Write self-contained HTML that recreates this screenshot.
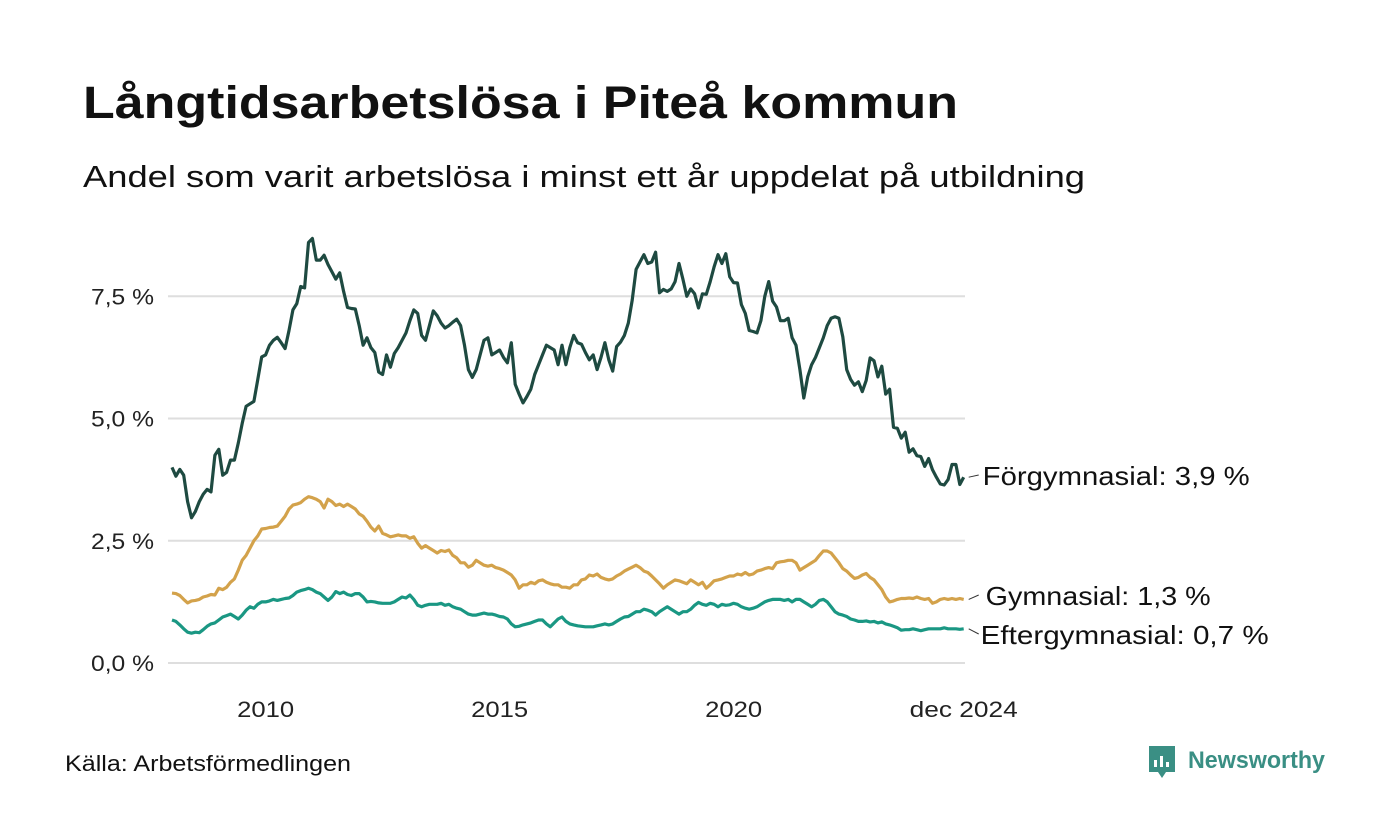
<!DOCTYPE html>
<html><head><meta charset="utf-8"><style>
body{margin:0;background:#fff;}
svg{display:block;font-family:"Liberation Sans","DejaVu Sans",sans-serif;}
</style></head><body>
<svg id="chart" width="1400" height="840" viewBox="0 0 1400 840">
<rect width="1400" height="840" fill="#fff"/>
<text x="83" y="118" font-size="45" font-weight="bold" fill="#111" textLength="875" lengthAdjust="spacingAndGlyphs">Långtidsarbetslösa i Piteå kommun</text>
<text x="83" y="187" font-size="31" fill="#111" textLength="1002" lengthAdjust="spacingAndGlyphs">Andel som varit arbetslösa i minst ett år uppdelat på utbildning</text>
<g id="grid"></g>
<g id="yticks"></g>
<g id="xticks"></g>
<g id="series"></g>
<g id="labels"></g>
<text x="65" y="771" font-size="22" fill="#111" textLength="286" lengthAdjust="spacingAndGlyphs">Källa: Arbetsförmedlingen</text>
<g>
<path d="M1149 746 h26 v26 h-9 l-4 6 l-4 -6 h-9 z" fill="#3a8f84"/>
<rect x="1154" y="760" width="3" height="7" fill="#fff"/>
<rect x="1160" y="756" width="3" height="11" fill="#fff"/>
<rect x="1166" y="762" width="3" height="5" fill="#fff"/>
<text x="1188" y="768" font-size="24" font-weight="bold" fill="#3a8f84" textLength="137" lengthAdjust="spacingAndGlyphs">Newsworthy</text>
</g>
</svg>
<script>
const startYear = 2008;
const yTicks = [0, 2.5, 5, 7.5];
const yTickLabels = ["0,0 %", "2,5 %", "5,0 %", "7,5 %"];
const xTickDates = [2010, 2015, 2020, 2024 + 11/12];
const xTickLabels = ["2010", "2015", "2020", "dec 2024"];
const forgymnasial = [
4.0,3.82,3.96,3.84,3.3,2.97,3.1,3.3,3.45,3.55,3.5,4.25,
4.37,3.84,3.9,4.15,4.15,4.5,4.9,5.25,5.3,5.35,5.8,6.26,
6.3,6.5,6.6,6.66,6.55,6.43,6.8,7.22,7.35,7.7,7.67,8.6,
8.68,8.24,8.24,8.34,8.15,8.0,7.85,7.98,7.6,7.27,7.25,7.24,
6.9,6.5,6.65,6.45,6.35,5.95,5.9,6.3,6.05,6.33,6.45,6.6,
6.75,7.0,7.22,7.15,6.7,6.6,6.9,7.2,7.1,6.95,6.85,6.9,
6.97,7.03,6.9,6.5,6.0,5.84,6.0,6.3,6.6,6.65,6.3,6.35,
6.4,6.25,6.14,6.55,5.7,5.5,5.32,5.45,5.6,5.9,6.1,6.3,
6.5,6.45,6.4,6.1,6.5,6.1,6.45,6.7,6.55,6.52,6.35,6.2,
6.3,6.0,6.25,6.55,6.2,5.97,6.47,6.56,6.7,6.95,7.42,8.05,
8.2,8.35,8.17,8.2,8.4,7.57,7.64,7.6,7.65,7.8,8.17,7.85,
7.5,7.65,7.55,7.26,7.55,7.54,7.8,8.1,8.35,8.17,8.37,7.9,
7.78,7.77,7.33,7.15,6.8,6.78,6.75,7.0,7.5,7.8,7.4,7.28,
7.0,7.0,7.05,6.65,6.5,6.0,5.42,5.85,6.1,6.25,6.45,6.65,
6.9,7.05,7.08,7.05,6.67,6.0,5.8,5.68,5.75,5.55,5.78,6.24,
6.18,5.85,6.07,5.5,5.6,4.82,4.8,4.6,4.72,4.31,4.38,4.24,
4.22,4.02,4.18,3.95,3.8,3.66,3.64,3.75,4.06,4.06,3.65,3.8];
const gymnasial = [
1.43,1.42,1.38,1.3,1.23,1.27,1.28,1.3,1.35,1.37,1.4,1.39,
1.53,1.5,1.55,1.65,1.72,1.9,2.1,2.2,2.35,2.5,2.6,2.74,
2.75,2.77,2.78,2.8,2.9,3.0,3.15,3.23,3.25,3.28,3.35,3.4,
3.38,3.35,3.3,3.17,3.35,3.3,3.22,3.25,3.2,3.25,3.2,3.15,
3.05,3.0,2.9,2.78,2.7,2.8,2.65,2.62,2.58,2.6,2.62,2.6,
2.6,2.55,2.58,2.45,2.35,2.4,2.35,2.3,2.25,2.3,2.28,2.31,
2.2,2.15,2.05,2.05,1.96,2.0,2.1,2.05,2.0,1.98,2.0,1.95,
1.93,1.9,1.85,1.8,1.7,1.53,1.6,1.6,1.65,1.62,1.68,1.7,
1.65,1.62,1.6,1.6,1.55,1.55,1.53,1.6,1.6,1.7,1.72,1.8,
1.78,1.82,1.75,1.72,1.7,1.72,1.78,1.82,1.88,1.92,1.96,2.0,
1.95,1.88,1.85,1.78,1.7,1.62,1.53,1.6,1.65,1.7,1.68,1.65,
1.62,1.7,1.65,1.6,1.65,1.53,1.6,1.68,1.7,1.72,1.75,1.78,
1.78,1.82,1.8,1.85,1.8,1.82,1.88,1.9,1.93,1.95,1.93,2.05,
2.07,2.08,2.1,2.1,2.05,1.9,1.95,2.0,2.05,2.1,2.2,2.29,
2.29,2.25,2.15,2.05,1.93,1.88,1.8,1.73,1.75,1.8,1.83,1.75,
1.7,1.6,1.5,1.35,1.25,1.27,1.3,1.32,1.32,1.33,1.32,1.35,
1.32,1.3,1.32,1.22,1.25,1.3,1.32,1.3,1.32,1.3,1.32,1.3];
const eftergymnasial = [
.88,.85,.78,.7,.63,.61,.63,.62,.68,.75,.8,.82,
.88,.94,.97,1.0,.95,.9,.98,1.08,1.15,1.12,1.2,1.25,
1.25,1.27,1.3,1.28,1.3,1.32,1.33,1.38,1.45,1.48,1.5,1.53,
1.5,1.45,1.42,1.35,1.28,1.35,1.46,1.42,1.45,1.4,1.38,1.42,
1.42,1.35,1.25,1.26,1.25,1.23,1.22,1.22,1.22,1.25,1.3,1.35,
1.33,1.39,1.3,1.18,1.15,1.18,1.2,1.2,1.2,1.22,1.18,1.2,
1.15,1.12,1.1,1.05,1.0,.98,.98,1.0,1.02,1.0,1.0,.98,
.95,.94,.9,.8,.74,.75,.78,.8,.82,.85,.88,.88,
.8,.74,.82,.9,.94,.85,.8,.78,.76,.75,.74,.74,
.74,.76,.78,.8,.78,.8,.85,.9,.94,.95,1.0,1.05,
1.05,1.1,1.08,1.05,.98,1.05,1.1,1.15,1.1,1.05,1.0,1.05,
1.05,1.1,1.18,1.24,1.2,1.18,1.22,1.2,1.15,1.2,1.18,1.19,
1.22,1.2,1.15,1.12,1.1,1.12,1.15,1.2,1.25,1.28,1.3,1.3,
1.3,1.28,1.3,1.25,1.3,1.3,1.25,1.2,1.15,1.2,1.28,1.3,
1.25,1.15,1.05,1.0,.98,.95,.9,.88,.85,.85,.86,.84,
.85,.82,.84,.8,.78,.75,.72,.67,.68,.68,.7,.68,
.66,.68,.7,.7,.7,.7,.72,.7,.7,.7,.69,.7];
const seriesNames = ["Förgymnasial", "Gymnasial", "Eftergymnasial"];
const seriesLabels = ["Förgymnasial: 3,9 %", "Gymnasial: 1,3 %", "Eftergymnasial: 0,7 %"];

const NS = "http://www.w3.org/2000/svg";
const x0 = 172, pxPerYear = 46.8;
function xScale(t){ return x0 + (t - startYear) * pxPerYear; }
function yScale(v){ return 663 - v * 48.9; }
function mk(tag, attrs, parent){ const e = document.createElementNS(NS, tag); for (const k in attrs) e.setAttribute(k, attrs[k]); parent.appendChild(e); return e; }

const grid = document.getElementById('grid'), yt = document.getElementById('yticks');
yTicks.forEach((v, i) => {
  const l = mk('line', {x1: 168, x2: 965, y1: yScale(v), y2: yScale(v), stroke: '#dedede', 'stroke-width': 2}, grid);
  
  
  const t = mk('text', {x: 154, y: yScale(v) + 8, 'font-size': 22, 'text-anchor': 'end', fill: '#222', textLength: 63, lengthAdjust: 'spacingAndGlyphs'}, yt);
  t.textContent = yTickLabels[i];
  
  
});
const xt = document.getElementById('xticks');
xTickDates.forEach((d, i) => {
  const w = xTickLabels[i].length > 4 ? 108 : 57;
  const t = mk('text', {x: xScale(d), y: 717, 'font-size': 22, 'text-anchor': 'middle', fill: '#222', textLength: w, lengthAdjust: 'spacingAndGlyphs'}, xt);
  t.textContent = xTickLabels[i];
  
  
});
const all = [forgymnasial, gymnasial, eftergymnasial];
const colors = ["#1e4a41", "#d3a24b", "#1a9783"];
const labelWidths = [267, 225, 288];
const sg = document.getElementById('series'), lg = document.getElementById('labels');
const labelY = [476, 596, 635];
all.forEach((arr, s) => {
  const d = arr.map((v, i) => (i ? 'L' : 'M') + xScale(startYear + i / 12).toFixed(1) + ' ' + yScale(v).toFixed(1)).join(' ');
  const p = mk('path', {d: d, fill: 'none', stroke: colors[s], 'stroke-width': 3.2, 'stroke-linejoin': 'round'}, sg);
  
  
  const lastX = xScale(startYear + (arr.length - 1) / 12), lastY = yScale(arr[arr.length - 1]);
  const ld = mk('line', {x1: lastX + 5, y1: lastY, x2: lastX + 15, y2: labelY[s] - 1, stroke: '#333', 'stroke-width': 1}, lg);
  
  
  const t = mk('text', {x: lastX + 19 + (s === 1 ? 3 : (s === 2 ? -2 : 0)), y: labelY[s] + 9, 'font-size': 26, fill: '#111', textLength: labelWidths[s], lengthAdjust: 'spacingAndGlyphs'}, lg);
  t.textContent = seriesLabels[s];
  
  
});
</script>
</body></html>
